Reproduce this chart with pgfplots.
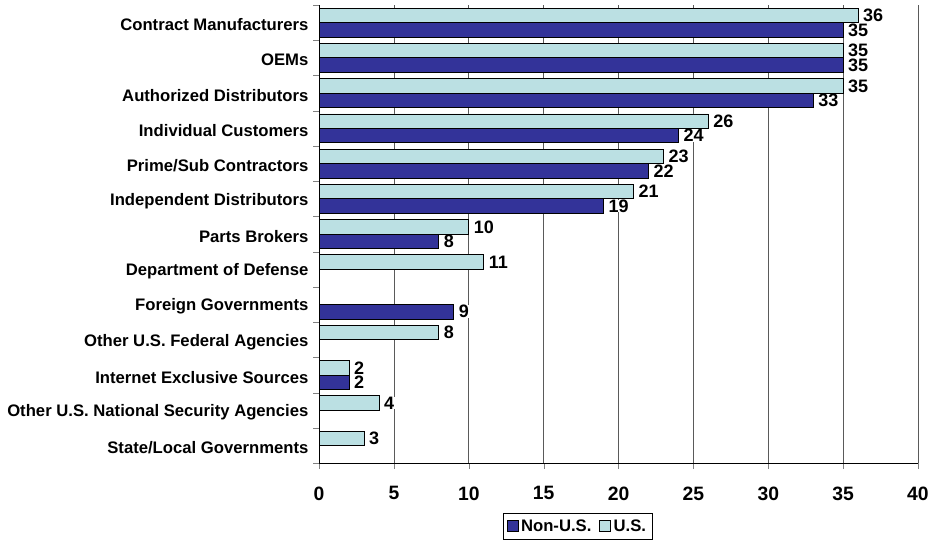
\documentclass[border=0pt]{standalone}
\usepackage{fontspec}
\setmainfont{Liberation Sans}
\usepackage{pgfplots}
\pgfplotsset{compat=1.18}
\usetikzlibrary{calc}
\definecolor{nonus}{RGB}{51,51,153}
\definecolor{us}{RGB}{187,224,227}
\definecolor{gridc}{RGB}{90,90,90}

\begin{document}
\begin{tikzpicture}
\begin{axis}[
  name=ax,
  scale only axis,
  width=449pt, height=343.5pt,
  xbar, bar width=0.41,
  xmin=0, xmax=40, xtick={0,5,...,40},
  ymin=-0.5, ymax=12.5,
  ytick={0,...,12},
  yticklabels={State/Local Governments, Other U.S. National Security Agencies, Internet Exclusive Sources, Other U.S. Federal Agencies, Foreign Governments, Department of Defense, Parts Brokers, Independent Distributors, Prime/Sub Contractors, Individual Customers, Authorized Distributors, OEMs, Contract Manufacturers},
  minor ytick={-0.5,0.5,...,12.5},
  major y tick style={draw=none},
  minor tick length=4.5pt,
  major tick length=4pt,
  tick align=outside,
  tick pos=left,
  axis x line*=bottom, axis y line*=left,
  axis line style={line width=0.75pt, -},
  xmajorgrids,
  major x grid style={gridc, line width=0.7pt},
  /pgf/number format/assume math mode=true,
  xticklabel style={font=\fontsize{14.5}{16}\selectfont\bfseries, yshift=-10pt},
  yticklabel style={font=\fontsize{12.5}{14}\selectfont\bfseries, xshift=-0.5pt, yshift=-1.5pt},
  nodes near coords,
  nodes near coords style={font=\fontsize{13.5}{14}\selectfont\bfseries, fill=white,
    inner xsep=1pt, inner ysep=0pt, xshift=2.5pt},
  legend style={at={(0.432,-0.109)}, anchor=north, legend columns=2, draw=black,
    font=\fontsize{12.5}{14}\selectfont\bfseries, inner sep=2.5pt,
    /tikz/every even column/.append style={column sep=4pt}},
  legend image code/.code={\draw[#1,draw=black] (0pt,-4pt) rectangle (8pt,4pt);},
]
\addplot[fill=nonus, draw=black, line width=0.6pt, bar shift=-0.205] coordinates {
  (35,12) (35,11) (33,10) (24,9) (22,8) (19,7) (8,6) (9,4) (2,2)
};
\addplot[fill=us, draw=black, line width=0.6pt, bar shift=0.205] coordinates {
  (36,12) (35,11) (35,10) (26,9) (23,8) (21,7) (10,6) (11,5) (8,3) (2,2) (4,1) (3,0)
};
\legend{Non-U.S., U.S.}
\end{axis}
\pgfresetboundingbox
\path[use as bounding box] ($(ax.south west)+(-239.25pt,-57.75pt)$) rectangle ($(ax.north east)+(11.25pt,3.75pt)$);
\end{tikzpicture}
\end{document}
